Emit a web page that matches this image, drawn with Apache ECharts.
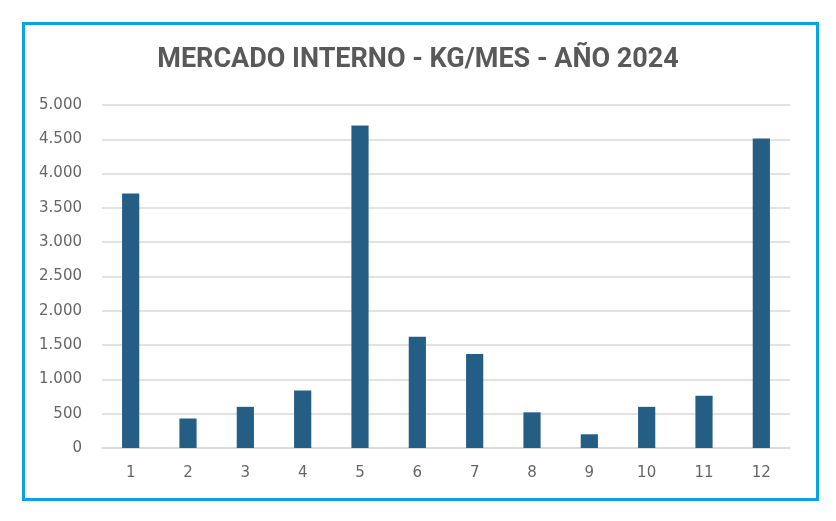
<!DOCTYPE html>
<html><head><meta charset="utf-8">
<script src="https://cdn.jsdelivr.net/npm/echarts@6/dist/echarts.min.js"></script>
<style>html,body{margin:0;padding:0;background:#fff}#c{width:836px;height:521px}</style>
</head><body><div id="c"></div>
<script>
const categories = ['1','2','3','4','5','6','7','8','9','10','11','12'];
const values = [3710, 430, 600, 840, 4700, 1620, 1370, 520, 200, 600, 760, 4510];
const titleText = 'MERCADO INTERNO - KG/MES - AÑO 2024';
const chart = echarts.init(document.getElementById('c'));
chart.setOption({
  animation: false,
  backgroundColor: '#fff',
  graphic: [{
    type: 'rect', left: 22, top: 22, z: -1,
    shape: { width: 794, height: 476 },
    style: { fill: '#fff', stroke: '#0aa3e3', lineWidth: 3 }
  }],
  title: {
    text: titleText, left: 'center', top: 42,
    textStyle: { fontFamily: 'Roboto', fontWeight: 'bold', fontSize: 27, color: '#595959' }
  },
  grid: { left: 102, right: 46, top: 105, bottom: 73, containLabel: false },
  xAxis: {
    type: 'category', data: categories,
    axisLine: { show: true, lineStyle: { color: '#d9d9d9', width: 1.5 } },
    axisTick: { show: false },
    axisLabel: { color: '#666666', fontSize: 15, fontFamily: 'DejaVu Sans', margin: 18 }
  },
  yAxis: {
    type: 'value', min: 0, max: 5000, interval: 500,
    axisLine: { show: false }, axisTick: { show: false },
    splitLine: { lineStyle: { color: '#d9d9d9', width: 1.5 } },
    axisLabel: {
      color: '#666666', fontSize: 15, fontFamily: 'DejaVu Sans', margin: 20,
      formatter: v => String(v).replace(/\B(?=(\d{3})+(?!\d))/g, '.')
    }
  },
  series: [{
    type: 'bar', data: values, barWidth: '30%',
    itemStyle: { color: '#255e85' }
  }]
});
</script></body></html>
